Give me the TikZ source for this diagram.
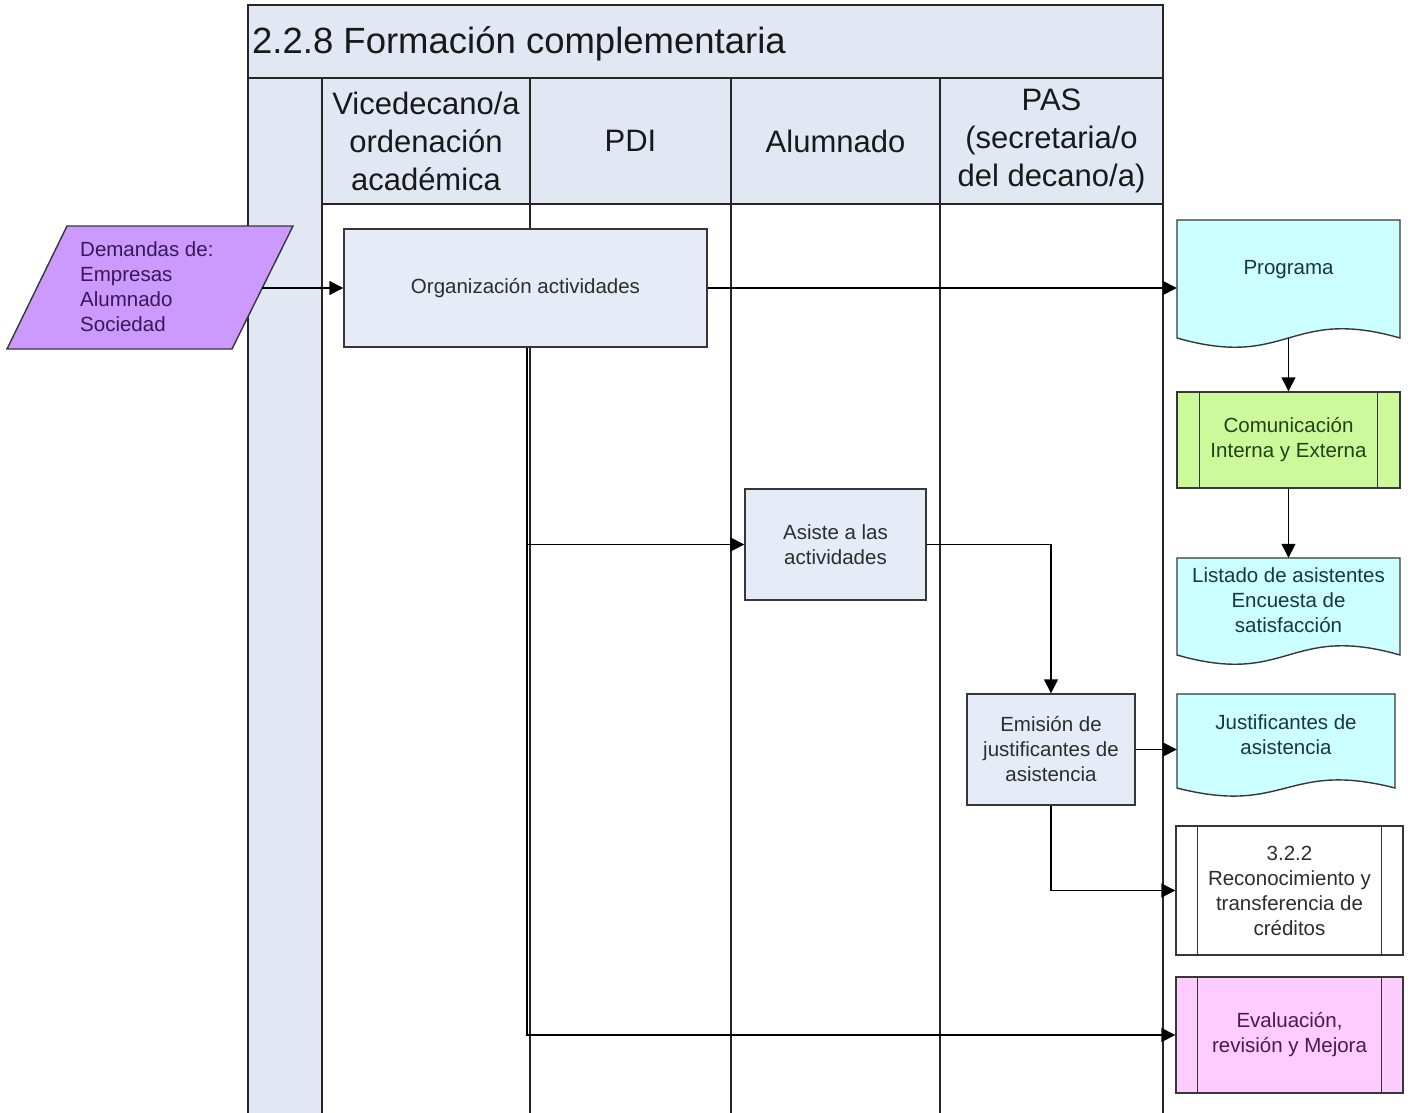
\documentclass[tikz,border=0pt]{standalone}
\usepackage{fontspec}
\setmainfont{Liberation Sans}
\usetikzlibrary{arrows.meta,calc}

\definecolor{lanefill}{RGB}{225,232,244}
\definecolor{boxfill}{RGB}{229,235,247}
\definecolor{inputfill}{RGB}{204,153,255}
\definecolor{docfill}{RGB}{204,255,255}
\definecolor{commfill}{RGB}{204,250,155}
\definecolor{evalfill}{RGB}{255,204,255}
\definecolor{edge}{RGB}{55,55,55}
\definecolor{bodytext}{RGB}{45,45,45}
\definecolor{inputtext}{RGB}{55,25,85}
\definecolor{doctext}{RGB}{25,55,65}
\definecolor{commtext}{RGB}{35,65,20}
\definecolor{evaltext}{RGB}{75,25,75}

\newcommand\diagbody{\fontsize{20.5}{25}\selectfont}
\newcommand\diaghead{\fontsize{31}{38}\selectfont}
\newcommand\diagtitle{\fontsize{36.5}{40}\selectfont}

\begin{document}
\begin{tikzpicture}[x=1pt,y=-1pt,
  lanerule/.style={line width=1.8pt, draw=black!85},
  arr/.style={line width=1.4pt, draw=black, -{Triangle[length=14pt,width=14pt]}},
  shapeedge/.style={draw=edge, line width=1.4pt},
  txt/.style={inner sep=0pt, align=center, font=\diagbody, text=bodytext},
  headtxt/.style={inner sep=0pt, align=center, font=\diaghead, text=black!90},
  procbox/.style={shapeedge, fill=boxfill, inner sep=0pt, align=center, font=\diagbody, text=bodytext},
  predef/.style={shapeedge, inner sep=0pt, align=center, font=\diagbody},
  area/.style={inner sep=0pt, draw=none}
]
\useasboundingbox (0,0) rectangle (1411,1113);

% swimlane backgrounds
\fill[lanefill] (248,5) rectangle (1163,204);
\fill[lanefill] (248,204) rectangle (322,1113);

% swimlane rules
\draw[lanerule] (248,1113) -- (248,5) -- (1163,5) -- (1163,1113);
\draw[lanerule] (248,78) -- (1163,78);
\draw[lanerule] (322,204) -- (1163,204);
\foreach \lx in {322,530,731,940}
  \draw[lanerule] (\lx,78) -- (\lx,1113);

% title and lane headers
\node[anchor=base west, inner sep=0pt, font=\diagtitle, text=black!90] (title) at (252,54) {2.2.8 Formación complementaria};
\node[headtxt] (hvice) at (426,141) {Vicedecano/a\\ordenación\\académica};
\node[headtxt] (hpdi) at (630.5,141) {PDI};
\node[headtxt] (halum) at (835.5,141) {Alumnado};
\node[headtxt] (hpas) at (1051.5,141) {PAS\\(secretaria/o\\del decano/a)};

% input parallelogram
\draw[shapeedge, fill=inputfill] (67,226) -- (293,226) -- (232,349) -- (7,349) -- cycle;
\coordinate (demout) at (262,288);
\node[inner sep=0pt, align=left, font=\diagbody, text=inputtext, anchor=west] (dem) at (80,287)
  {Demandas de:\\Empresas\\Alumnado\\Sociedad};

% process boxes
\node[procbox, minimum width=363, minimum height=118] (org) at (525.5,288) {Organización actividades};
\node[procbox, minimum width=181, minimum height=111] (asis) at (835.5,544.5) {Asiste a las\\actividades};
\node[procbox, minimum width=168, minimum height=111] (emis) at (1051,749.5) {Emisión de\\justificantes de\\asistencia};

% document shapes
\draw[shapeedge, fill=docfill] (1177,220) -- (1400,220) -- (1400,338)
  .. controls (1288.5,306) and (1288.5,370) .. (1177,338) -- cycle;
\node[area, minimum width=223, minimum height=118] (prog) at (1288.5,279) {};
\node[txt, text=doctext] (progtxt) at (1288.5,270) {Programa};

\draw[shapeedge, fill=docfill] (1177,558) -- (1400,558) -- (1400,655)
  .. controls (1288.5,623) and (1288.5,687) .. (1177,655) -- cycle;
\node[area, minimum width=223, minimum height=97] (list) at (1288.5,606.5) {};
\node[txt, text=doctext] (listtxt) at (1288.5,600) {Listado de asistentes\\Encuesta de\\satisfacción};

\draw[shapeedge, fill=docfill] (1177,694) -- (1395,694) -- (1395,788)
  .. controls (1286,760) and (1286,816) .. (1177,788) -- cycle;
\node[area, minimum width=218, minimum height=94] (just) at (1286,741) {};
\node[txt, text=doctext] (justtxt) at (1286,735) {Justificantes de\\asistencia};

% predefined processes
\node[predef, fill=commfill, text=commtext, minimum width=223, minimum height=96] (com) at (1288.5,440) {Comunicación\\Interna y Externa};
\node[predef, fill=white, text=bodytext, minimum width=227, minimum height=129] (reco) at (1289.5,890.5) {3.2.2\\Reconocimiento y\\transferencia de\\créditos};
\node[predef, fill=evalfill, text=evaltext, minimum width=227, minimum height=116] (eval) at (1289.5,1035) {Evaluación,\\revisión y Mejora};
\foreach \n/\d in {com/23, reco/22, eval/22} {
  \draw[shapeedge] ([xshift=\d]\n.north west) -- ([xshift=\d]\n.south west);
  \draw[shapeedge] ([xshift=-\d]\n.north east) -- ([xshift=-\d]\n.south east);
}

% connectors
\draw[arr] (demout) -- (org.west |- demout);
\draw[arr] (org.east) -- (org.east -| prog.west);
\draw[arr] (prog.south) -- (com.north);
\draw[arr] (com.south) -- (list.north);
\coordinate (tap) at ($(org.south)+(1.5,0)$);
\draw[arr] (tap) |- (eval.west);
\draw[arr] (tap |- asis.west) -- (asis.west);
\draw[arr] (asis.east) -| (emis.north);
\draw[arr] (emis.east) -- (emis.east -| just.west);
\draw[arr] (emis.south) |- (reco.west);
\end{tikzpicture}
\end{document}
